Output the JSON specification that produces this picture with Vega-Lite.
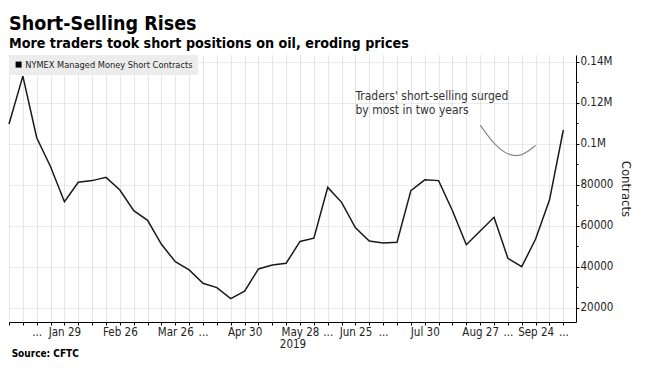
{
  "$schema": "https://vega.github.io/schema/vega-lite/v6.json",
  "width": 567,
  "height": 267,
  "autosize": {"type": "none"},
  "padding": {"left": 9, "top": 55, "right": 70, "bottom": 46},
  "background": "white",
  "config": {
    "font": "DejaVu Sans Condensed",
    "view": {"stroke": null}
  },
  "title": {
    "text": "Short-Selling Rises",
    "subtitle": "More traders took short positions on oil, eroding prices",
    "anchor": "start",
    "frame": "group",
    "font": "DejaVu Sans Condensed",
    "subtitleFont": "DejaVu Sans Condensed",
    "fontSize": 19.5,
    "fontWeight": "bold",
    "color": "#000",
    "subtitleFontSize": 14.2,
    "subtitleFontWeight": "bold",
    "subtitleColor": "#000",
    "subtitlePadding": 2,
    "offset": 3
  },
  "datasets": {
    "series": [
      {"date": "2019-01-01", "value": 109600, "series": "NYMEX Managed Money Short Contracts"},
      {"date": "2019-01-08", "value": 133000, "series": "NYMEX Managed Money Short Contracts"},
      {"date": "2019-01-15", "value": 102900, "series": "NYMEX Managed Money Short Contracts"},
      {"date": "2019-01-22", "value": 88800, "series": "NYMEX Managed Money Short Contracts"},
      {"date": "2019-01-29", "value": 71700, "series": "NYMEX Managed Money Short Contracts"},
      {"date": "2019-02-05", "value": 81200, "series": "NYMEX Managed Money Short Contracts"},
      {"date": "2019-02-12", "value": 82000, "series": "NYMEX Managed Money Short Contracts"},
      {"date": "2019-02-19", "value": 83600, "series": "NYMEX Managed Money Short Contracts"},
      {"date": "2019-02-26", "value": 77400, "series": "NYMEX Managed Money Short Contracts"},
      {"date": "2019-03-05", "value": 67300, "series": "NYMEX Managed Money Short Contracts"},
      {"date": "2019-03-12", "value": 62600, "series": "NYMEX Managed Money Short Contracts"},
      {"date": "2019-03-19", "value": 50900, "series": "NYMEX Managed Money Short Contracts"},
      {"date": "2019-03-26", "value": 42400, "series": "NYMEX Managed Money Short Contracts"},
      {"date": "2019-04-02", "value": 38400, "series": "NYMEX Managed Money Short Contracts"},
      {"date": "2019-04-09", "value": 31900, "series": "NYMEX Managed Money Short Contracts"},
      {"date": "2019-04-16", "value": 29800, "series": "NYMEX Managed Money Short Contracts"},
      {"date": "2019-04-23", "value": 24400, "series": "NYMEX Managed Money Short Contracts"},
      {"date": "2019-04-30", "value": 28000, "series": "NYMEX Managed Money Short Contracts"},
      {"date": "2019-05-07", "value": 38900, "series": "NYMEX Managed Money Short Contracts"},
      {"date": "2019-05-14", "value": 40800, "series": "NYMEX Managed Money Short Contracts"},
      {"date": "2019-05-21", "value": 41700, "series": "NYMEX Managed Money Short Contracts"},
      {"date": "2019-05-28", "value": 52300, "series": "NYMEX Managed Money Short Contracts"},
      {"date": "2019-06-04", "value": 53900, "series": "NYMEX Managed Money Short Contracts"},
      {"date": "2019-06-11", "value": 78700, "series": "NYMEX Managed Money Short Contracts"},
      {"date": "2019-06-18", "value": 71400, "series": "NYMEX Managed Money Short Contracts"},
      {"date": "2019-06-25", "value": 59000, "series": "NYMEX Managed Money Short Contracts"},
      {"date": "2019-07-02", "value": 52500, "series": "NYMEX Managed Money Short Contracts"},
      {"date": "2019-07-09", "value": 51600, "series": "NYMEX Managed Money Short Contracts"},
      {"date": "2019-07-16", "value": 51900, "series": "NYMEX Managed Money Short Contracts"},
      {"date": "2019-07-23", "value": 77100, "series": "NYMEX Managed Money Short Contracts"},
      {"date": "2019-07-30", "value": 82400, "series": "NYMEX Managed Money Short Contracts"},
      {"date": "2019-08-06", "value": 82000, "series": "NYMEX Managed Money Short Contracts"},
      {"date": "2019-08-13", "value": 67300, "series": "NYMEX Managed Money Short Contracts"},
      {"date": "2019-08-20", "value": 50700, "series": "NYMEX Managed Money Short Contracts"},
      {"date": "2019-08-27", "value": 57400, "series": "NYMEX Managed Money Short Contracts"},
      {"date": "2019-09-03", "value": 64100, "series": "NYMEX Managed Money Short Contracts"},
      {"date": "2019-09-10", "value": 44100, "series": "NYMEX Managed Money Short Contracts"},
      {"date": "2019-09-17", "value": 40000, "series": "NYMEX Managed Money Short Contracts"},
      {"date": "2019-09-24", "value": 53500, "series": "NYMEX Managed Money Short Contracts"},
      {"date": "2019-10-01", "value": 72500, "series": "NYMEX Managed Money Short Contracts"},
      {"date": "2019-10-08", "value": 106700, "series": "NYMEX Managed Money Short Contracts"}
    ],
    "curve": [
      {"date": "2019-08-27", "value": 109100},
      {"date": "2019-09-03", "value": 100300},
      {"date": "2019-09-10", "value": 95100},
      {"date": "2019-09-17", "value": 94700},
      {"date": "2019-09-24", "value": 99100}
    ],
    "note": [
      {"date": "2019-06-25", "value": 121300, "label": "Traders' short-selling surged\nby most in two years"}
    ],
    "source": [
      {"date": "2019-01-02T08:00:00Z", "value": -4300, "label": "Source: CFTC"}
    ]
  },
  "resolve": {"axis": {"y": "independent"}},
  "encoding": {
    "x": {
      "field": "date",
      "type": "temporal",
      "scale": {"type": "utc", "domain": [1546300800000, 1571045760000]},
      "axis": {
        "values": [1546300800000, 1546905600000, 1547510400000, 1548115200000, 1548720000000, 1549324800000, 1549929600000, 1550534400000, 1551139200000, 1551744000000, 1552348800000, 1552953600000, 1553558400000, 1554163200000, 1554768000000, 1555372800000, 1555977600000, 1556582400000, 1557187200000, 1557792000000, 1558396800000, 1559001600000, 1559606400000, 1560211200000, 1560816000000, 1561420800000, 1562025600000, 1562630400000, 1563235200000, 1563840000000, 1564444800000, 1565049600000, 1565654400000, 1566259200000, 1566864000000, 1567468800000, 1568073600000, 1568678400000, 1569283200000, 1569888000000, 1570492800000],
        "labelExpr": "indexof(['Jan 29','Feb 26','Mar 26','Apr 30','May 28','Jun 25','Jul 30','Aug 27','Sep 24'], utcFormat(datum.value, '%b %d')) >= 0 ? utcFormat(datum.value, '%b %d') : (indexof(['Jan 15','Apr 09','Jun 11','Jul 09','Sep 10','Oct 08'], utcFormat(datum.value, '%b %d')) >= 0 ? '...' : '')",
        "labelOverlap": false,
        "labelFlush": false,
        "labelAngle": 0,
        "labelFontSize": 11.5,
        "labelColor": "#222",
        "labelPadding": 1,
        "title": "2019",
        "titleFontSize": 11.5,
        "titleFontWeight": "normal",
        "titleColor": "#222",
        "titlePadding": 1,
        "tickSize": 3,
        "tickColor": "#000",
        "domainColor": "#000",
        "grid": true,
        "gridColor": "#cccccc",
        "gridDash": [1, 1]
      }
    }
  },
  "layer": [
    {
      "data": {"name": "series"},
      "mark": {"type": "line", "color": "#1a1a1a", "strokeWidth": 1.5},
      "encoding": {
        "y": {
          "field": "value",
          "type": "quantitative",
          "scale": {"domain": [13000, 143300], "nice": false, "zero": false},
          "axis": {
            "orient": "right",
            "values": [20000, 40000, 60000, 80000, 100000, 120000, 140000],
            "labelExpr": "datum.value >= 100000 ? format(datum.value / 1000000, '.2~f') + 'M' : format(datum.value, 'd')",
            "labelFontSize": 11.5,
            "labelColor": "#222",
            "labelPadding": 1,
            "tickSize": 3,
            "tickColor": "#000",
            "domainColor": "#000",
            "title": "Contracts",
            "titleFontSize": 13,
            "titleFontWeight": "normal",
            "titleColor": "#222",
            "titlePadding": 6,
            "grid": true,
            "gridColor": "#d6d6d6",
            "gridDash": [1, 1]
          }
        },
        "color": {
          "field": "series",
          "type": "nominal",
          "scale": {"range": ["#1a1a1a"]},
          "legend": {
            "orient": "top-left",
            "offset": 0,
            "title": null,
            "fillColor": "#ececec",
            "padding": 5,
            "symbolType": "square",
            "symbolSize": 36,
            "symbolFillColor": "#000",
            "symbolStrokeWidth": 0,
            "labelFontSize": 9.2,
            "labelColor": "#222",
            "labelOffset": 2,
            "labelLimit": 0
          }
        }
      }
    },
    {
      "data": {"name": "curve"},
      "mark": {"type": "line", "color": "#8a8a8a", "strokeWidth": 1.2, "interpolate": "natural"},
      "encoding": {
        "y": {
          "field": "value",
          "type": "quantitative",
          "axis": {
            "orient": "right",
            "values": [30000, 50000, 70000, 90000, 110000, 130000],
            "labels": false,
            "grid": false,
            "domain": false,
            "tickSize": 2,
            "tickColor": "#000",
            "title": null
          }
        }
      }
    },
    {
      "data": {"name": "note"},
      "mark": {"type": "text", "align": "left", "baseline": "alphabetic", "fontSize": 12, "lineHeight": 13.5, "lineBreak": "\n", "color": "#333"},
      "encoding": {
        "y": {"field": "value", "type": "quantitative", "axis": null},
        "text": {"field": "label"}
      }
    },
    {
      "data": {"name": "source"},
      "mark": {"type": "text", "align": "left", "baseline": "alphabetic", "fontSize": 10, "fontWeight": "bold", "color": "#000"},
      "encoding": {
        "y": {"field": "value", "type": "quantitative", "axis": null},
        "text": {"field": "label"}
      }
    }
  ]
}
